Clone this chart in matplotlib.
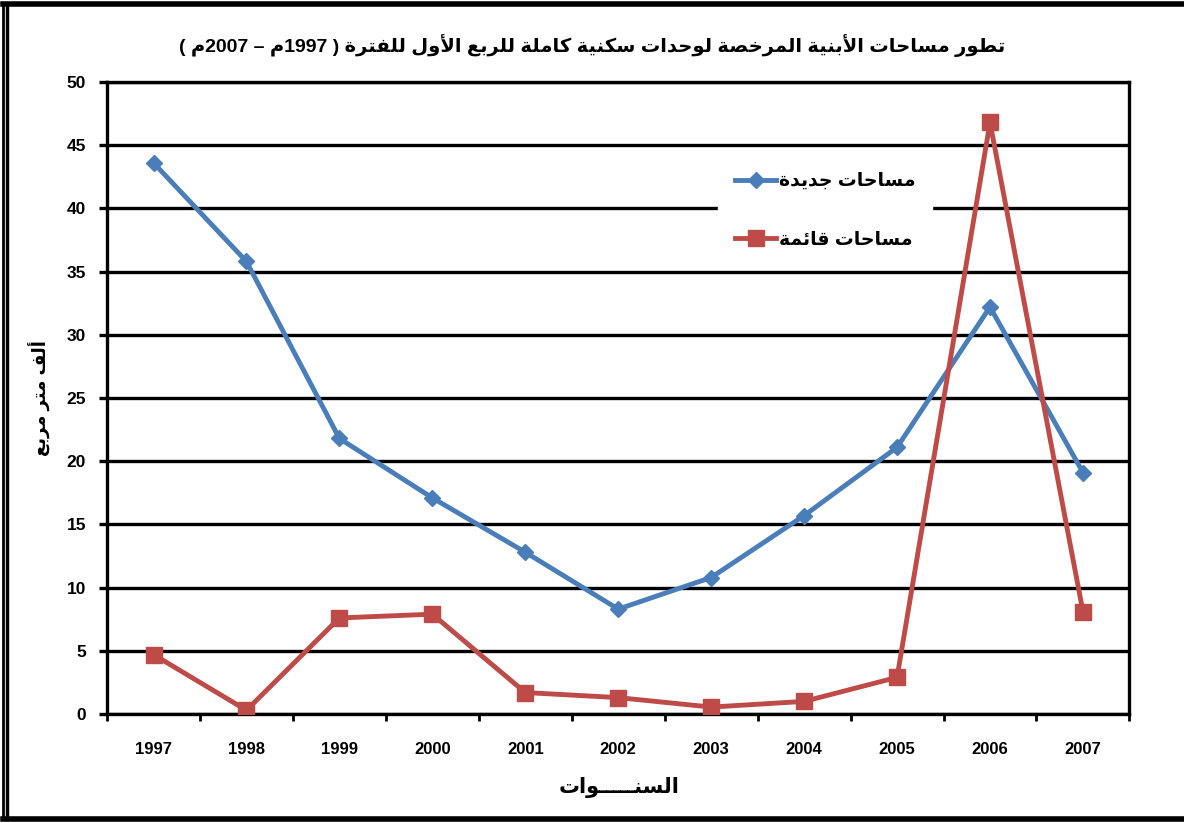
import re

import matplotlib
matplotlib.use("Agg")
import matplotlib.pyplot as plt
import numpy as np
from matplotlib.lines import Line2D

years = ["1997", "1998", "1999", "2000", "2001", "2002",
         "2003", "2004", "2005", "2006", "2007"]
new_areas = [43.6, 35.8, 21.8, 17.1, 12.8, 8.3, 10.8, 15.7, 21.1, 32.2, 19.1]
existing_areas = [4.7, 0.3, 7.6, 7.9, 1.7, 1.3, 0.55, 1.0, 2.9, 46.8, 8.1]

title = "تطور مساحات الأبنية المرخصة لوحدات سكنية كاملة للربع الأول للفترة ( 1997م – 2007م )"
xlabel = "السنـــــوات"
ylabel = "ألف متر مربع"
label_new = "مساحات جديدة"
label_old = "مساحات قائمة"

# minimal arabic shaping: presentation forms + visual (reversed) order
FORMS = {
    "ء": (0xFE80, 1), "آ": (0xFE81, 2), "أ": (0xFE83, 2), "ؤ": (0xFE85, 2),
    "إ": (0xFE87, 2), "ئ": (0xFE89, 4), "ا": (0xFE8D, 2), "ب": (0xFE8F, 4),
    "ة": (0xFE93, 2), "ت": (0xFE95, 4), "ث": (0xFE99, 4), "ج": (0xFE9D, 4),
    "ح": (0xFEA1, 4), "خ": (0xFEA5, 4), "د": (0xFEA9, 2), "ذ": (0xFEAB, 2),
    "ر": (0xFEAD, 2), "ز": (0xFEAF, 2), "س": (0xFEB1, 4), "ش": (0xFEB5, 4),
    "ص": (0xFEB9, 4), "ض": (0xFEBD, 4), "ط": (0xFEC1, 4), "ظ": (0xFEC5, 4),
    "ع": (0xFEC9, 4), "غ": (0xFECD, 4), "ف": (0xFED1, 4), "ق": (0xFED5, 4),
    "ك": (0xFED9, 4), "ل": (0xFEDD, 4), "م": (0xFEE1, 4), "ن": (0xFEE5, 4),
    "ه": (0xFEE9, 4), "و": (0xFEED, 2), "ى": (0xFEEF, 2), "ي": (0xFEF1, 4),
}
LAM_ALEF = {"آ": 0xFEF5, "أ": 0xFEF7, "إ": 0xFEF9, "ا": 0xFEFB}
TATWEEL = "ـ"


def _joins_prev(c):
    if isinstance(c, tuple) or c == TATWEEL:
        return True
    return c in FORMS and FORMS[c][1] >= 2


def _joins_next(c):
    if isinstance(c, tuple):
        return False
    return c == TATWEEL or (c in FORMS and FORMS[c][1] == 4)


def ar(text):
    chars = []
    i = 0
    while i < len(text):
        if text[i] == "ل" and i + 1 < len(text) and text[i + 1] in LAM_ALEF:
            chars.append(("LA", text[i + 1]))
            i += 2
        else:
            chars.append(text[i])
            i += 1
    out = []
    for k, c in enumerate(chars):
        prev = chars[k - 1] if k > 0 else None
        nxt = chars[k + 1] if k + 1 < len(chars) else None
        jp = _joins_prev(c) and prev is not None and _joins_next(prev)
        jn = _joins_next(c) and nxt is not None and _joins_prev(nxt)
        if isinstance(c, tuple):
            out.append(chr(LAM_ALEF[c[1]] + (1 if jp else 0)))
        elif c in FORMS:
            base, n = FORMS[c]
            idx = 3 if (jp and jn) else 2 if jn else 1 if jp else 0
            out.append(chr(base + min(idx, n - 1)))
        else:
            out.append(c)
    s = "".join(out)[::-1]
    s = re.sub(r"\d+", lambda m: m.group()[::-1], s)
    return s.translate(str.maketrans("()", ")("))


FAM = ["Liberation Sans", "DejaVu Sans"]
plt.rcParams["font.family"] = FAM

fig = plt.figure(figsize=(11.84, 8.23), dpi=100)
ax = fig.add_axes([0.0904, 0.1324, 0.8635, 0.768])

x = np.arange(len(years))
ax.plot(x, new_areas, color="#4A7EBB", lw=3.5, marker="D", ms=8.5,
        label=ar(label_new), zorder=3)
ax.plot(x, existing_areas, color="#BE4B48", lw=3.5, marker="s", ms=11,
        label=ar(label_old), zorder=3)

ax.set_xlim(-0.5, len(years) - 0.5)
ax.set_ylim(0, 50)
ax.set_yticks(np.arange(0, 51, 5))
ax.yaxis.grid(True, color="black", lw=2.4)
ax.set_axisbelow(True)
for sp in ax.spines.values():
    sp.set_linewidth(2.4)
    sp.set_color("black")

ax.set_xticks(x)
ax.set_xticklabels(years, fontsize=12, fontweight="bold")
ax.set_xticks(np.arange(-0.5, len(years), 1), minor=True)
ax.tick_params(axis="x", which="major", length=0, pad=20)
ax.tick_params(axis="x", which="minor", length=5, width=2, direction="out")
ax.tick_params(axis="y", length=6, width=2.4, direction="out", pad=9,
               labelsize=12.5)
for lab in ax.get_yticklabels():
    lab.set_fontweight("bold")

fig.text(0.5, 0.945, ar(title), ha="center", va="center",
         fontsize=14, fontweight="bold", family=FAM)
fig.text(0.523, 0.043, ar(xlabel), ha="center", va="center",
         fontsize=15, fontweight="bold", family=FAM)
fig.text(0.034, 0.516, ar(ylabel), ha="center", va="center", rotation=90,
         fontsize=13, fontweight="bold", family=FAM)

leg = ax.legend(loc="center", bbox_to_anchor=(0.697, 0.744),
                bbox_transform=fig.transFigure, frameon=True,
                fancybox=False, framealpha=1, edgecolor="white",
                prop={"family": FAM, "weight": "bold", "size": 13.5},
                handlelength=2.2, labelspacing=2.2, borderpad=0.9,
                handletextpad=0.15)
leg.set_zorder(4)

# outer frame
W, H = 1184, 823
for xs, ys, lw in [([3 / W, 3 / W], [4 / H, 1 - 4 / H], 2),
                   ([7 / W, 7 / W], [4 / H, 1 - 4 / H], 2.5),
                   ([3 / W, 1], [1 - 4 / H, 1 - 4 / H], 4),
                   ([3 / W, 1], [4 / H, 4 / H], 4)]:
    fig.add_artist(Line2D(xs, ys, color="black", lw=lw))

fig.savefig("out.png", dpi=100, facecolor="white")
